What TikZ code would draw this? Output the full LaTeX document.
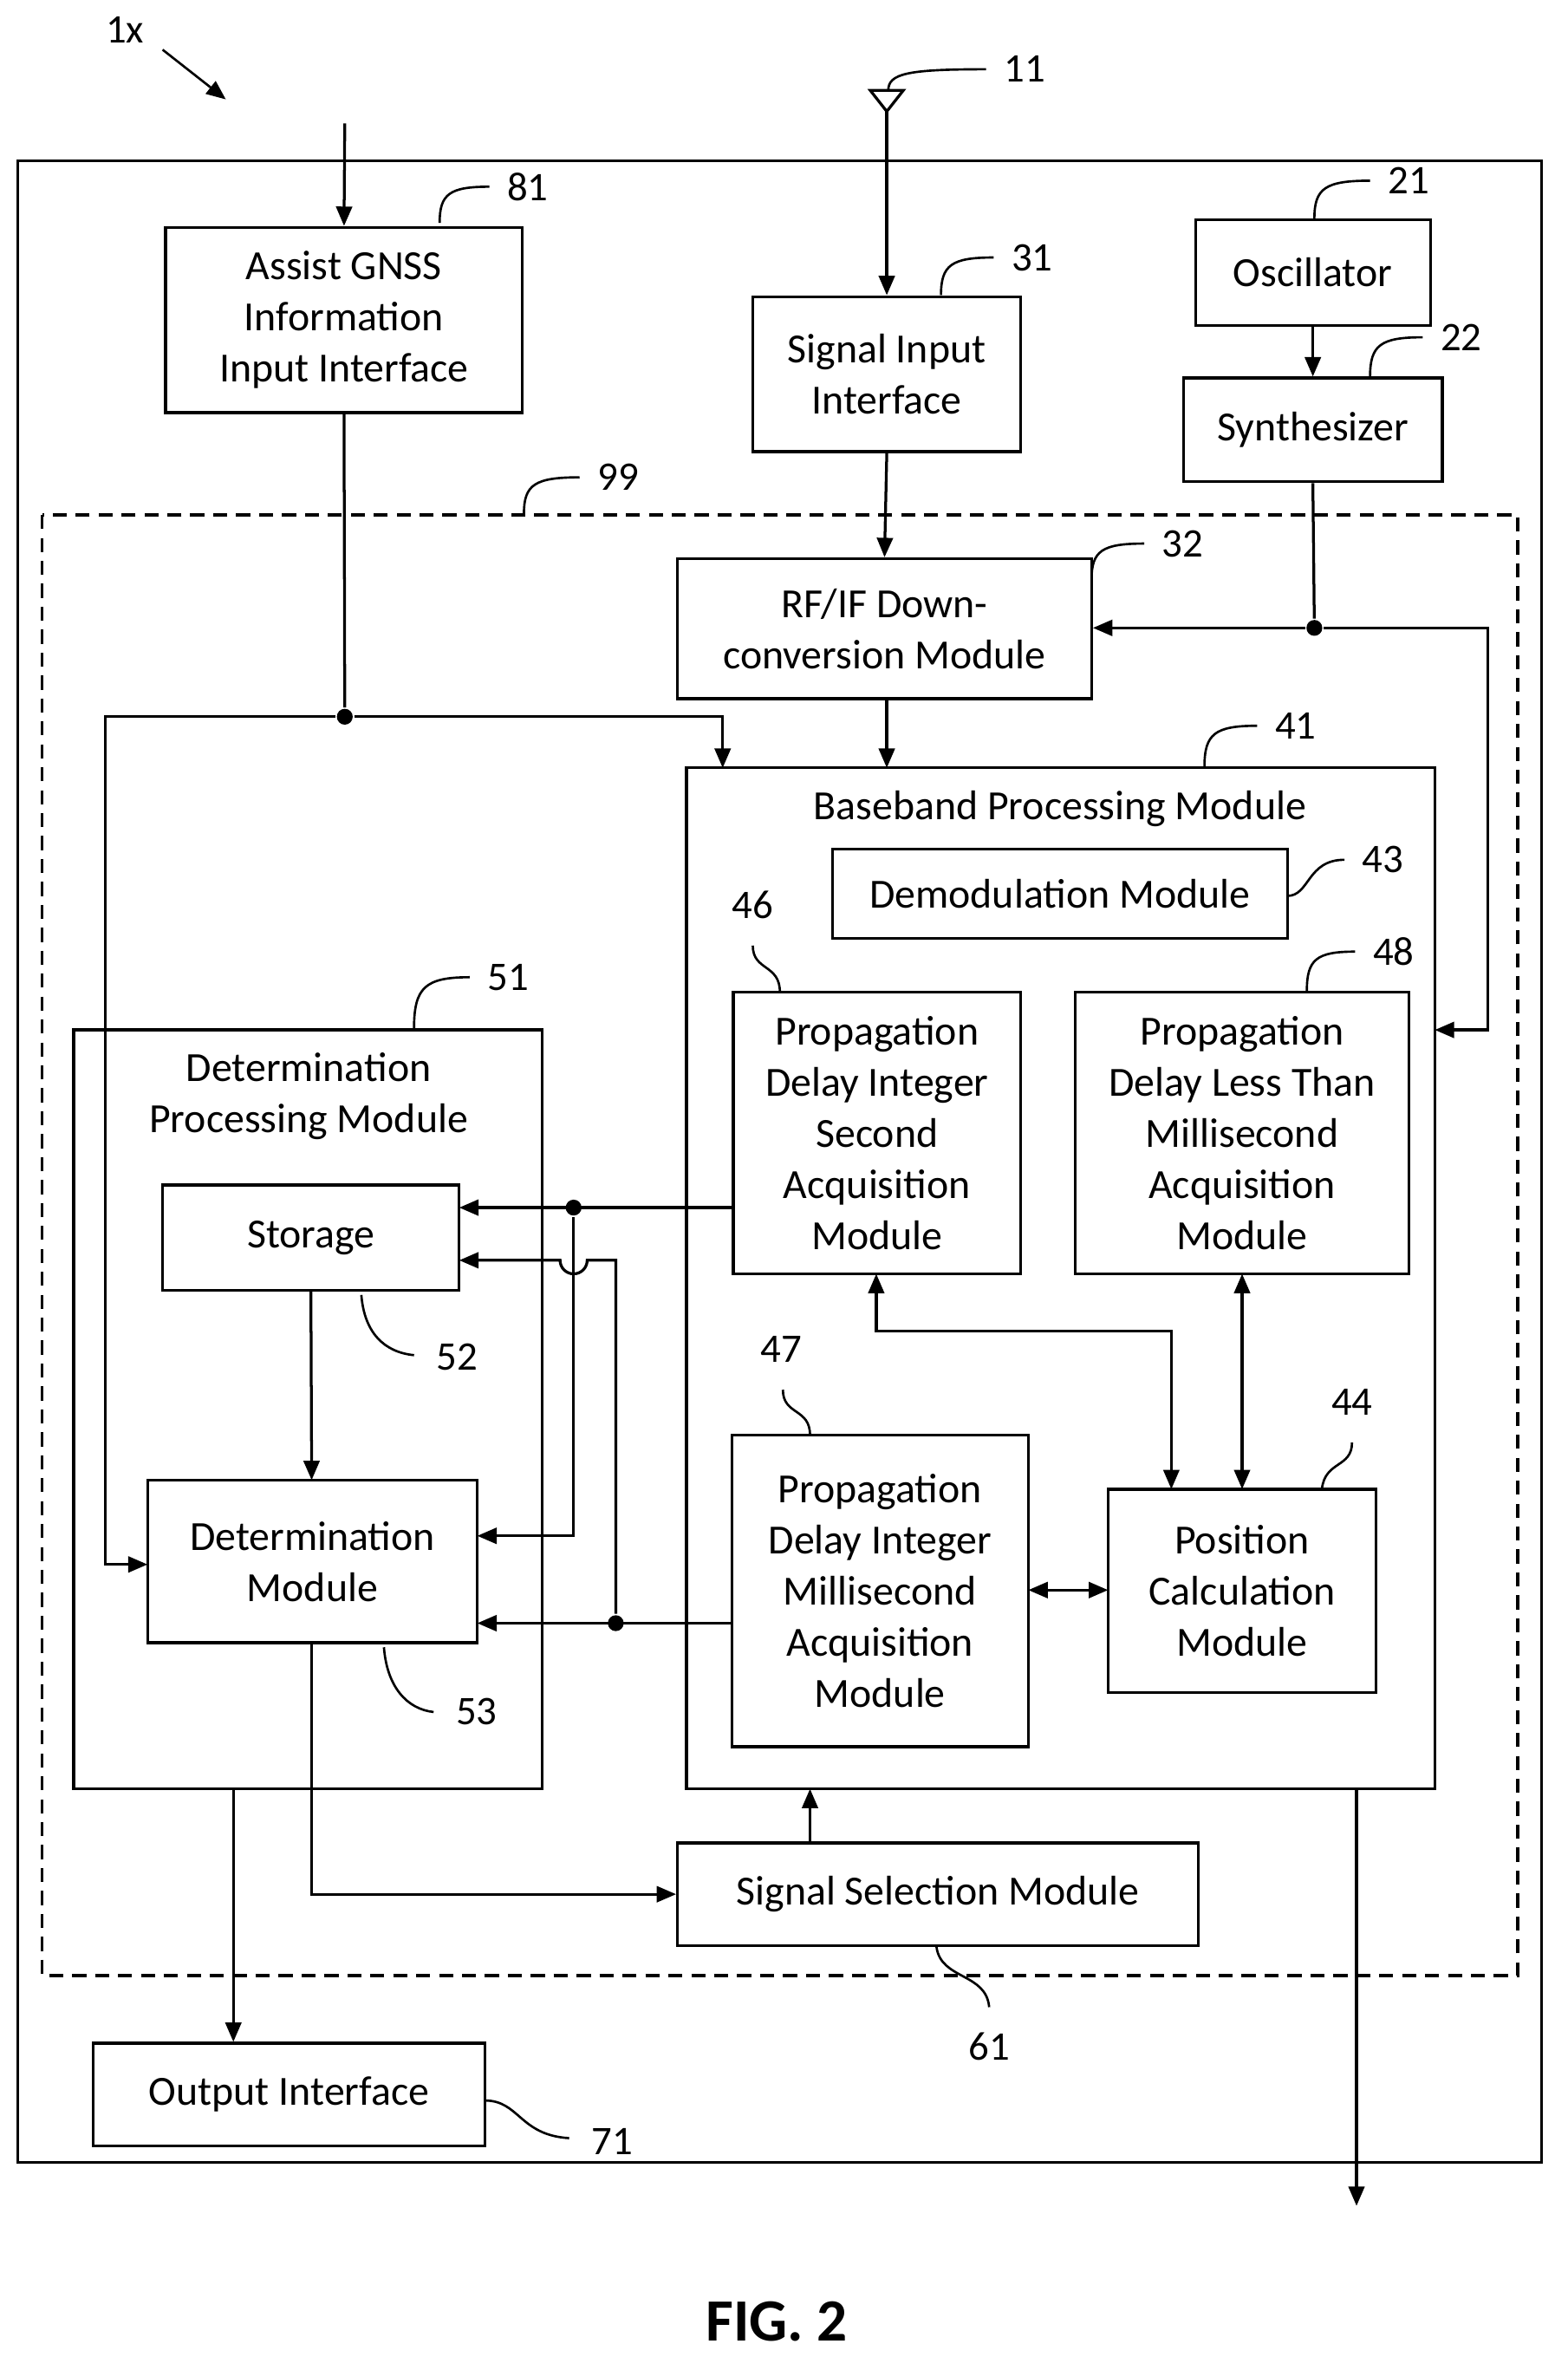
\documentclass[tikz,border=0pt]{standalone}
\usepackage{fontspec}
\setmainfont{Carlito}
\usetikzlibrary{arrows.meta}
\begin{document}
\fontsize{23}{29}\selectfont
\begin{tikzpicture}[x=0.3mm,y=-0.3mm,line width=1.6pt,
  box/.style={draw,align=center,inner sep=0pt,font=\fontsize{23.5}{29}\selectfont},
  arr/.style={-{Triangle[length=11pt,width=9pt]}},
  darr/.style={{Triangle[length=11pt,width=9pt]}-{Triangle[length=11pt,width=9pt]}},
  lead/.style={line width=1.3pt},
  lbl/.style={font=\fontsize{23}{28}\selectfont},
  dot/.style={circle,fill,inner sep=0pt,minimum size=9pt}]
\useasboundingbox (0,0) rectangle (1041,1574);
\newcommand\bx[6]{\node[box,minimum width=#4*0.3mm-#2*0.3mm,minimum height=#5*0.3mm-#3*0.3mm] (#1) at ({(#2+#4)/2},{(#3+#5)/2}) {#6};}
% outer boxes
\draw (12,107) rectangle (1024,1436);
\draw[dash pattern=on 8pt off 5pt] (28,342) rectangle (1008,1312);
\bx{b81}{110}{151}{347}{274}{Assist GNSS\\Information\\Input Interface}
\bx{b31}{500}{197}{678}{300}{Signal Input\\Interface}
\bx{b21}{794}{146}{950}{216}{Oscillator}
\bx{b22}{786}{251}{958}{320}{Synthesizer}
\bx{b32}{450}{371}{725}{464}{RF/IF Down-\\conversion Module}
\draw (456,510) rectangle (953,1188);
\node[lbl,font=\fontsize{23.5}{29}\selectfont] (t41) at (704,537) {Baseband Processing Module};
\bx{b43}{553}{564}{855}{623}{Demodulation Module}
\bx{b46}{487}{659}{678}{846}{Propagation\\Delay Integer\\Second\\Acquisition\\Module}
\bx{b48}{714}{659}{936}{846}{Propagation\\Delay Less Than\\Millisecond\\Acquisition\\Module}
\bx{b47}{486}{953}{683}{1160}{Propagation\\Delay Integer\\Millisecond\\Acquisition\\Module}
\bx{b44}{736}{989}{914}{1124}{Position\\Calculation\\Module}
\draw (49,684) rectangle (360,1188);
\node[align=center,font=\fontsize{23.5}{29}\selectfont] (t51) at (205,728) {Determination\\Processing Module};
\bx{b52}{108}{787}{305}{857}{Storage}
\bx{b53}{98}{983}{317}{1091}{Determination\\Module}
\bx{b61}{450}{1224}{796}{1292}{Signal Selection Module}
\bx{b71}{62}{1357}{322}{1425}{Output Interface}
% antenna
\draw (578,60) -- (600,60) -- (589,74) -- cycle;
\draw[arr] (589,74) -- (b31.north);
\draw[arr] (229,82) -- (b81.north);
% connectors
\node[dot] (j1) at (229,476) {};
\draw (b81.south) -- (j1);
\draw[arr] (j1) -- (70,476) -- (70,1039) -- (98,1039);
\draw[arr] (j1) -- (480,476) -- (480,510);
\draw[arr] (b31.south) -- (b32.north);
\draw[arr] (b21.south) -- (b22.south |- b22.north);
\node[dot] (j2) at (873,417) {};
\draw (b22.south) -- (j2);
\draw[arr] (j2) -- (b32.east |- j2);
\draw[arr] (j2) -- (988,417) -- (988,684) -- (953,684);
\draw[arr] (589,464) -- (589,510);
\node[dot] (j3) at (381,802) {};
\draw[arr] (b46.west |- j3) -- (305,802);
\draw[arr] (j3) -- (381,1020) -- (317,1020);
\node[dot] (j4) at (409,1078) {};
\draw[arr] (b47.west |- j4) -- (317,1078);
\draw[arr] (j4) -- (409,837) -- (390,837) arc (0:180:9) -- (305,837);
\draw[arr] (b52.south) -- (207,983);
\draw[darr] (582,846) -- (582,884) -- (778,884) -- (778,989);
\draw[darr] (825,846) -- (825,989);
\draw[darr] (683,1056) -- (736,1056);
\draw[arr] (207,1091) -- (207,1258) -- (b61.west);
\draw[arr] (538,1224) -- (538,1188);
\draw[arr] (155,1188) -- (b71.north -| 155,0);
\draw[arr] (901,1188) -- (901,1465);
% labels
\node[lbl] (l1x) at (83,20) {1x};
\draw[arr,lead] (108,33) -- (150,66);
\newcommand\ld[5]{\draw[lead] (#1,#2) .. controls (#1,{#2-(#2-#4)*0.8}) and ({#1+(#3-#1)*0.2},#4) .. (#3,#4); \node[lbl,anchor=west] at (#3+2,#4) {#5};}
\ld{292}{148}{325}{124}{81}
\ld{590}{60}{655}{46}{11}
\ld{625}{196}{660}{171}{31}
\ld{873}{145}{910}{120}{21}
\ld{910}{250}{945}{224}{22}
\ld{348}{341}{385}{317}{99}
\ld{725}{385}{760}{361}{32}
\ld{800}{509}{835}{482}{41}
\ld{868}{658}{900}{632}{48}
\ld{275}{683}{312}{649}{51}
\draw[lead] (855,595) .. controls (870,595) and (868,571) .. (893,571); \node[lbl,anchor=west] at (895,571) {43};
\draw[lead] (518,659) .. controls (518,640) and (500,645) .. (500,628); \node[lbl] at (500,601) {46};
\draw[lead] (538,953) .. controls (538,935) and (520,940) .. (520,923); \node[lbl] at (519,896) {47};
\draw[lead] (878,989) .. controls (880,970) and (898,975) .. (898,958); \node[lbl] at (898,931) {44};
\draw[lead] (240,860) .. controls (242,885) and (255,898) .. (275,900); \node[lbl,anchor=west] at (280,901) {52};
\draw[lead] (255,1094) .. controls (257,1120) and (270,1135) .. (288,1137); \node[lbl,anchor=west] at (293,1137) {53};
\draw[lead] (622,1293) .. controls (625,1315) and (655,1310) .. (657,1333); \node[lbl] at (657,1359) {61};
\draw[lead] (322,1395) .. controls (345,1395) and (345,1418) .. (378,1420); \node[lbl,anchor=west] at (383,1422) {71};
\node[font=\fontsize{34}{40}\selectfont\bfseries] (fig) at (516,1542) {FIG. 2};
\end{tikzpicture}
\end{document}
